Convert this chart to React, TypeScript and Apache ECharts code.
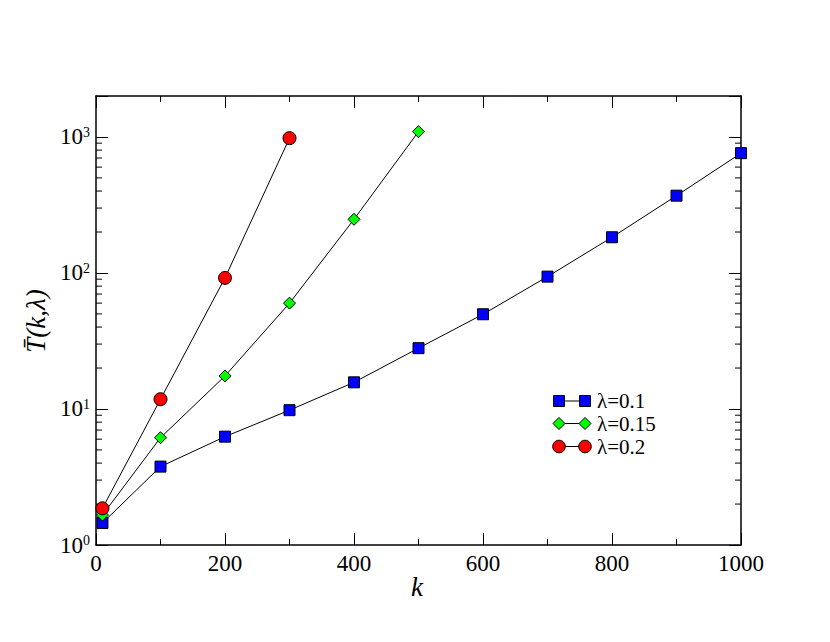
import React, { useEffect, useRef } from "react";
import * as echarts from "echarts";

const kBlue = [10, 100, 200, 300, 400, 500, 600, 700, 800, 900, 1000];
const tBlue = [1.45, 3.77, 6.26, 9.8, 15.7, 28, 49.7, 94, 183, 370, 760];
const kGreen = [10, 100, 200, 300, 400, 500];
const tGreen = [1.66, 6.15, 17.5, 60, 248, 1095];
const kRed = [10, 100, 200, 300];
const tRed = [1.86, 11.8, 92, 980];
const legendLabels = ["λ=0.1", "λ=0.15", "λ=0.2"];
const minorTickValues = [2, 3, 4, 5, 6, 7, 8, 9, 20, 30, 40, 50, 60, 70, 80, 90, 200, 300, 400, 500, 600, 700, 800, 900];

const FONT = '"Liberation Serif", "Times New Roman", Times, serif';

export default function App() {
  const ref = useRef<HTMLDivElement>(null);
  useEffect(() => {
    if (!ref.current) return;
    const chart = echarts.init(ref.current, undefined, { renderer: "svg" });
    const pair = (xs: number[], ys: number[]) => xs.map((x, i) => [x, ys[i]]);
    const axisLine = { show: true, onZero: false, lineStyle: { color: "#000", width: 1.5 } };
    const tick = { show: true, inside: true, length: 12, lineStyle: { color: "#000", width: 1 } };
    const minorTick = { show: true, splitNumber: 2, length: 6, lineStyle: { color: "#000", width: 1 } };
    const yLabelFmt = (v: number) => {
      const l = Math.log10(v);
      const e = Math.round(l);
      if (Math.abs(l - e) > 1e-6) return "";
      return `{b|10}{s|${e}}`;
    };
    const lineStyle = { color: "#000", width: 1 };
    const itemBorder = { borderColor: "#000", borderWidth: 1 };

    const legendX1 = 559;
    const legendX2 = 585;
    const rows = [401, 423.5, 446.5];
    const legendGraphics: any[] = [];
    rows.forEach((y, i) => {
      legendGraphics.push({
        type: "line",
        shape: { x1: legendX1, y1: y, x2: legendX2, y2: y },
        style: { stroke: "#000", lineWidth: 1 },
      });
      [legendX1, legendX2].forEach((cx) => {
        if (i === 0) {
          legendGraphics.push({
            type: "rect",
            shape: { x: cx - 5.5, y: y - 5.5, width: 11, height: 11 },
            style: { fill: "#0000ff", stroke: "#000", lineWidth: 1 },
          });
        } else if (i === 1) {
          legendGraphics.push({
            type: "polygon",
            shape: { points: [[cx, y - 6], [cx + 6, y], [cx, y + 6], [cx - 6, y]] },
            style: { fill: "#00ff00", stroke: "#000", lineWidth: 1 },
          });
        } else {
          legendGraphics.push({
            type: "circle",
            shape: { cx, cy: y, r: 6.3 },
            style: { fill: "#ff0000", stroke: "#000", lineWidth: 1 },
          });
        }
      });
      legendGraphics.push({
        type: "text",
        x: 597,
        y,
        style: { text: legendLabels[i], font: `21px ${FONT}`, fill: "#000", verticalAlign: "middle", align: "left" },
      });
    });

    chart.setOption({
      animation: false,
      backgroundColor: "#fff",
      textStyle: { fontFamily: FONT },
      grid: { left: 96, right: 89, top: 96, bottom: 97, containLabel: false },
      xAxis: [
        {
          type: "value",
          min: 0,
          max: 1000,
          interval: 200,
          position: "bottom",
          axisLine,
          axisTick: tick,
          minorTick,
          splitLine: { show: false },
          axisLabel: { color: "#000", fontFamily: FONT, fontSize: 23, margin: 7, formatter: (v: number) => String(v) },
        },
        {
          type: "value",
          min: 0,
          max: 1000,
          interval: 200,
          position: "top",
          axisLine,
          axisTick: tick,
          minorTick,
          splitLine: { show: false },
          axisLabel: { show: false },
        },
      ],
      yAxis: [
        {
          type: "log",
          logBase: 10,
          min: 1,
          max: 2000,
          position: "left",
          axisLine,
          axisTick: tick,
          splitLine: { show: false },
          axisLabel: {
            formatter: yLabelFmt,
            margin: 6,
            color: "#000",
            fontFamily: FONT,
            rich: {
              b: { fontFamily: FONT, fontSize: 23, color: "#000" },
              s: { fontFamily: FONT, fontSize: 14, color: "#000", verticalAlign: "top" },
            },
          },
        },
        {
          type: "log",
          logBase: 10,
          min: 1,
          max: 2000,
          position: "right",
          axisLine,
          axisTick: tick,
          splitLine: { show: false },
          axisLabel: { show: false },
        },
      ],
      series: [
        {
          type: "custom",
          name: "minor",
          xAxisIndex: 0,
          yAxisIndex: 0,
          silent: true,
          data: minorTickValues.map((v) => [0, v]),
          encode: { x: 0, y: 1 },
          renderItem: (params: any, api: any) => {
            const v = api.value(1);
            const pL = api.coord([0, v]);
            const pR = api.coord([1000, v]);
            return {
              type: "group",
              children: [
                { type: "line", shape: { x1: pL[0], y1: pL[1], x2: pL[0] + 6, y2: pL[1] }, style: { stroke: "#000", lineWidth: 1 } },
                { type: "line", shape: { x1: pR[0] - 6, y1: pR[1], x2: pR[0], y2: pR[1] }, style: { stroke: "#000", lineWidth: 1 } },
              ],
            };
          },
        },
        {
          type: "line",
          name: legendLabels[0],
          data: pair(kBlue, tBlue),
          symbol: "rect",
          symbolSize: 11,
          lineStyle,
          itemStyle: { color: "#0000ff", ...itemBorder },
          z: 3,
        },
        {
          type: "line",
          name: legendLabels[1],
          data: pair(kGreen, tGreen),
          symbol: "diamond",
          symbolSize: 12,
          lineStyle,
          itemStyle: { color: "#00ff00", ...itemBorder },
          z: 4,
        },
        {
          type: "line",
          name: legendLabels[2],
          data: pair(kRed, tRed),
          symbol: "circle",
          symbolSize: 13,
          lineStyle,
          itemStyle: { color: "#ff0000", ...itemBorder },
          z: 5,
        },
      ],
      graphic: [
        ...legendGraphics,
        {
          type: "text",
          x: 36,
          y: 321,
          rotation: Math.PI / 2,
          style: { text: "T\u0304(k,λ)", font: `italic 27px ${FONT}`, fill: "#000", align: "center", verticalAlign: "middle" },
        },
        {
          type: "text",
          x: 417,
          y: 587,
          style: { text: "k", font: `italic 27px ${FONT}`, fill: "#000", align: "center", verticalAlign: "middle" },
        },
      ],
    });
    return () => chart.dispose();
  }, []);
  return <div ref={ref} style={{ position: "fixed", left: 0, top: 0, width: 830, height: 642 }} />;
}
